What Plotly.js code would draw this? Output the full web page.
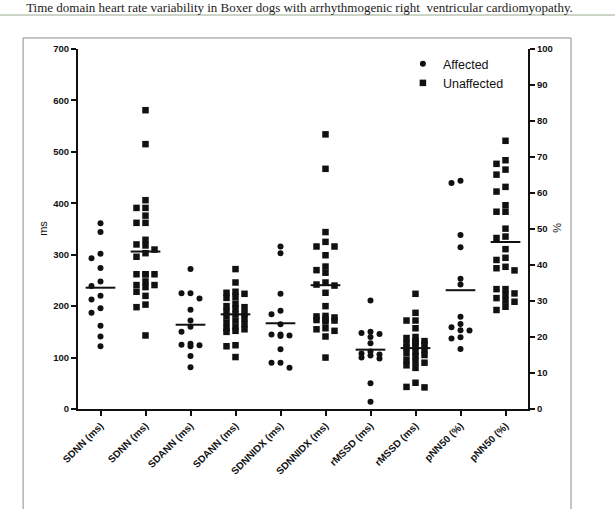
<!DOCTYPE html>
<html><head><meta charset="utf-8">
<script src="https://cdn.plot.ly/plotly-3.0.1.min.js"></script>
<style>html,body{margin:0;padding:0;background:#fff}#chart{width:615px;height:509px}</style>
</head><body><div id="chart"></div>
<script>
// ---- data ----
const categories = ['SDNN (ms)','SDNN (ms)','SDANN (ms)','SDANN (ms)','SDNNIDX (ms)','SDNNIDX (ms)','rMSSD (ms)','rMSSD (ms)','pNN50 (%)','pNN50 (%)'];
const groupNames = ['Affected','Unaffected'];
const sdnnAffected = [361, 344, 302, 293, 274, 248, 239, 220, 213, 196, 187, 162, 141, 122];
const sdnnUnaffected = [581, 515, 406, 391, 391, 376, 362, 362, 329, 320, 318, 310, 303, 296, 262, 262, 262, 262, 248, 241, 241, 237, 228, 220, 203, 198, 143];
const sdannAffected = [272, 225, 225, 215, 193, 172, 160, 150, 127, 125, 124, 122, 103, 81];
const sdannUnaffected = [272, 246, 228, 226, 224, 218, 216, 205, 200, 198, 195, 190, 186, 184, 180, 176, 172, 168, 165, 160, 157, 155, 152, 150, 124, 122, 101];
const sdnnidxAffected = [316, 303, 224, 191, 184, 165, 145, 145, 143, 142, 116, 90, 90, 80];
const sdnnidxUnaffected = [534, 467, 344, 325, 316, 316, 299, 277, 270, 265, 246, 242, 240, 226, 200, 181, 180, 178, 174, 173, 172, 170, 157, 155, 152, 141, 100];
const rmssdAffected = [211, 150, 148, 146, 140, 128, 112, 108, 106, 104, 100, 98, 50, 14];
const rmssdUnaffected = [224, 187, 172, 172, 157, 140, 138, 132, 132, 128, 128, 126, 122, 119, 115, 112, 108, 105, 103, 95, 92, 90, 85, 80, 51, 43, 42];
const pnn50Affected = [63.4, 62.8, 48.3, 44.9, 36.2, 34.6, 25.6, 23.6, 22.7, 21.9, 21.8, 19.9, 19.6, 16.7];
const pnn50Unaffected = [74.5, 69.1, 68.1, 66.5, 65.1, 61.7, 60.4, 56.6, 54.8, 54.8, 50.1, 47.9, 47.5, 44.4, 42.0, 41.4, 39.5, 39.1, 38.5, 33.3, 33.3, 32.1, 31.7, 30.8, 30.1, 29.8, 28.4, 27.5];
const yTicksMs = [0,100,200,300,400,500,600,700];
const yTicksPct = [0,10,20,30,40,50,60,70,80,90,100];

// ---- build ----
const columns = [
  {vals: sdnnAffected, g: 0, axis: 'y'},
  {vals: sdnnUnaffected, g: 1, axis: 'y'},
  {vals: sdannAffected, g: 0, axis: 'y'},
  {vals: sdannUnaffected, g: 1, axis: 'y'},
  {vals: sdnnidxAffected, g: 0, axis: 'y'},
  {vals: sdnnidxUnaffected, g: 1, axis: 'y'},
  {vals: rmssdAffected, g: 0, axis: 'y'},
  {vals: rmssdUnaffected, g: 1, axis: 'y'},
  {vals: pnn50Affected, g: 0, axis: 'y2'},
  {vals: pnn50Unaffected, g: 1, axis: 'y2'}
];
const plotH = 360;
// deterministic swarm: three slots (left / centre / right), overlapping allowed when crowded
function swarm(vals, pxPerUnit, d, step) {
  const placed = [];
  const order = [0, -1, 1];
  return vals.map(v => {
    let best = 0, bestDist = -1;
    for (const s of order) {
      const dists = placed.filter(p => p.slot === s).map(p => Math.abs(p.y - v) * pxPerUnit);
      const minD = dists.length ? Math.min(...dists) : Infinity;
      if (minD >= d) { best = s; bestDist = Infinity; break; }
      if (minD > bestDist) { bestDist = minD; best = s; }
    }
    placed.push({y: v, slot: best});
    return best * step;
  });
}
const traces = [];
const seen = [false, false];
columns.forEach((c, i) => {
  const pxu = plotH / (c.axis === 'y' ? 700 : 100);
  const offs = swarm(c.vals, pxu, 5.5, 0.2);
  traces.push({
    type: 'scatter', mode: 'markers',
    x: c.vals.map((v, k) => i + offs[k]), y: c.vals,
    xaxis: 'x', yaxis: c.axis,
    name: groupNames[c.g], legendgroup: groupNames[c.g],
    showlegend: !seen[c.g],
    marker: {symbol: c.g === 0 ? 'circle' : 'square', size: c.g === 0 ? 6 : 6.5, color: '#111', line: {width: 0}},
    hoverinfo: 'y'
  });
  seen[c.g] = true;
});
columns.forEach((c, i) => {
  const m = c.vals.reduce((a, b) => a + b, 0) / c.vals.length;
  traces.push({
    type: 'scatter', mode: 'lines', x: [i - 0.33, i + 0.33], y: [m, m],
    xaxis: 'x', yaxis: c.axis, showlegend: false, hoverinfo: 'skip',
    line: {color: '#111', width: 2}
  });
});

const axisCommon = {
  showline: true, linewidth: 2, linecolor: '#111', ticks: 'outside', ticklen: 5, tickwidth: 2, tickcolor: '#111',
  showgrid: false, zeroline: false, fixedrange: true
};
const layout = {
  width: 615, height: 509,
  margin: {l: 78, r: 87, t: 49, b: 100},
  paper_bgcolor: '#fff', plot_bgcolor: '#fff',
  font: {family: 'Arial, "Liberation Sans", sans-serif', color: '#111'},
  title: {text: 'Time domain heart rate variability in Boxer dogs with arrhythmogenic right  ventricular cardiomyopathy.',
          font: {family: '"Liberation Serif", "Times New Roman", serif', size: 13, color: '#222'},
          xref: 'container', x: 0.487, xanchor: 'center', yref: 'container', y: 0.985, yanchor: 'middle'},
  xaxis: Object.assign({}, axisCommon, {range: [-0.5, 9.5], tickmode: 'array', tickvals: categories.map((_, i) => i), ticktext: categories,
          tickangle: -45, tickfont: {size: 10, weight: 'bold'}}),
  yaxis: Object.assign({}, axisCommon, {range: [0, 700], tickmode: 'array', tickvals: yTicksMs, tickfont: {size: 9.5, weight: 'bold'}}),
  yaxis2: Object.assign({}, axisCommon, {range: [0, 100], tickmode: 'array', tickvals: yTicksPct, overlaying: 'y', side: 'right', anchor: 'x',
          tickfont: {size: 9.5, weight: 'bold'}}),
  showlegend: true,
  legend: {x: 0.722, y: 1.0, xanchor: 'left', yanchor: 'top', font: {size: 12.5}, bgcolor: 'rgba(0,0,0,0)', itemwidth: 30, tracegroupgap: 0},
  annotations: [
    {text: 'ms', xref: 'paper', yref: 'paper', x: -0.078, y: 0.503, textangle: -90, showarrow: false, font: {size: 11}, xanchor: 'center', yanchor: 'middle'},
    {text: '%', xref: 'paper', yref: 'paper', x: 1.064, y: 0.503, textangle: 90, showarrow: false, font: {size: 11}, xanchor: 'center', yanchor: 'middle'}
  ],
  shapes: [
    {type: 'line', xref: 'paper', yref: 'paper', x0: -0.1733, x1: 1.1933, y0: 1.0944, y1: 1.0944, line: {color: '#9aaa94', width: 1}},
    {type: 'line', xref: 'paper', yref: 'paper', x0: -0.122, x1: 1.0956, y0: 1.0306, y1: 1.0306, line: {color: '#8c8c8c', width: 1}},
    {type: 'line', xref: 'paper', yref: 'paper', x0: -0.122, x1: -0.122, y0: 1.0306, y1: -0.4, line: {color: '#8c8c8c', width: 1}},
    {type: 'line', xref: 'paper', yref: 'paper', x0: 1.0956, x1: 1.0956, y0: 1.0306, y1: -0.4, line: {color: '#8c8c8c', width: 1}}
  ]
};
Plotly.newPlot('chart', traces, layout, {displayModeBar: false, staticPlot: true});
</script>
</body></html>
